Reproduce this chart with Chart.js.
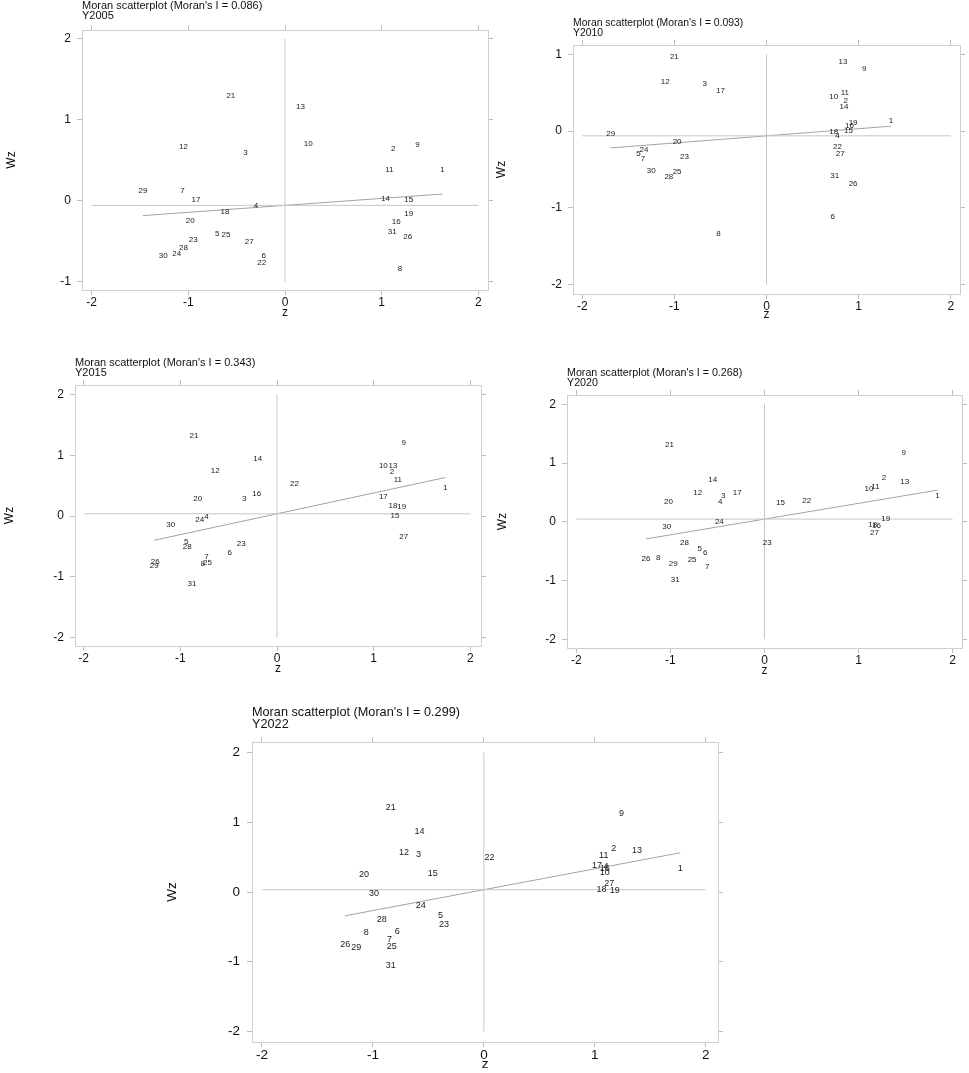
<!DOCTYPE html>
<html>
<head>
<meta charset="utf-8">
<title>Moran scatterplots</title>
<script src="https://cdn.jsdelivr.net/npm/chart.js@4.4.1/dist/chart.umd.min.js"></script>
<style>
  body { margin: 0; background: #fff; }
  #page { position: relative; width: 969px; height: 1073px; background: #fff; overflow: hidden; }
  #page canvas { position: absolute; }
</style>
</head>
<body>
<div id="page">
  <canvas id="c2005"></canvas>
  <canvas id="c2010"></canvas>
  <canvas id="c2015"></canvas>
  <canvas id="c2020"></canvas>
  <canvas id="c2022"></canvas>
</div>
<script>
// region ids, the point labels (1..31)
var regions = [1,2,3,4,5,6,7,8,9,10,11,12,13,14,15,16,17,18,19,20,21,22,23,24,25,26,27,28,29,30,31];

// z and Wz for each region, in region order
var z2005  = [1.63,1.12,-0.41,-0.30,-0.70,-0.22,-1.06,1.19,1.37,0.24,1.08,-1.05,0.16,1.04,1.28,1.15,-0.92,-0.62,1.28,-0.98,-0.56,-0.24,-0.95,-1.12,-0.61,1.27,-0.37,-1.05,-1.47,-1.26,1.11];
var wz2005 = [0.39,0.64,0.60,-0.06,-0.40,-0.68,0.12,-0.84,0.69,0.70,0.38,0.67,1.16,0.02,0.01,-0.26,0.01,-0.13,-0.16,-0.24,1.30,-0.77,-0.48,-0.65,-0.42,-0.44,-0.50,-0.58,0.12,-0.68,-0.38];

var z2010  = [1.35,0.86,-0.67,0.77,-1.39,0.72,-1.34,-0.52,1.06,0.73,0.85,-1.10,0.83,0.84,0.89,0.90,-0.50,0.73,0.94,-0.97,-1.00,0.77,-0.89,-1.33,-0.97,0.94,0.80,-1.06,-1.69,-1.25,0.74];
var wz2010 = [0.13,0.39,0.61,-0.065,-0.29,-1.11,-0.36,-1.34,0.81,0.45,0.50,0.64,0.90,0.32,0.00,0.065,0.52,-0.01,0.11,-0.14,0.96,-0.20,-0.34,-0.24,-0.53,-0.68,-0.30,-0.59,-0.04,-0.52,-0.58];

var z2015  = [1.74,1.19,-0.34,-0.73,-0.94,-0.49,-0.73,-0.77,1.31,1.10,1.25,-0.64,1.20,-0.20,1.22,-0.21,1.10,1.20,1.29,-0.82,-0.86,0.18,-0.37,-0.80,-0.72,-1.26,1.31,-0.93,-1.27,-1.10,-0.88];
var wz2015 = [0.47,0.73,0.29,-0.01,-0.42,-0.61,-0.67,-0.79,1.21,0.83,0.59,0.74,0.83,0.94,0.01,0.36,0.32,0.17,0.16,0.28,1.33,0.53,-0.46,-0.06,-0.77,-0.76,-0.34,-0.50,-0.82,-0.14,-1.11];

var z2020  = [1.84,1.27,-0.44,-0.47,-0.69,-0.63,-0.61,-1.13,1.48,1.11,1.18,-0.71,1.49,-0.55,0.17,1.19,-0.29,1.15,1.29,-1.02,-1.01,0.45,0.03,-0.48,-0.77,-1.26,1.17,-0.85,-0.97,-1.04,-0.95];
var wz2020 = [0.45,0.75,0.44,0.34,-0.46,-0.53,-0.77,-0.61,1.18,0.57,0.60,0.50,0.68,0.71,0.32,-0.06,0.49,-0.05,0.05,0.34,1.32,0.35,-0.35,0.00,-0.65,-0.63,-0.18,-0.36,-0.72,-0.09,-0.99];

var z2022  = [1.77,1.17,-0.59,1.10,-0.39,-0.78,-0.85,-1.06,1.24,1.09,1.08,-0.72,1.38,-0.58,-0.46,1.09,1.02,1.06,1.18,-1.08,-0.84,0.05,-0.36,-0.57,-0.83,-1.25,1.13,-0.92,-1.15,-0.99,-0.84];
var wz2022 = [0.33,0.63,0.54,0.36,-0.33,-0.56,-0.68,-0.58,1.12,0.28,0.52,0.57,0.59,0.87,0.26,0.33,0.38,0.04,0.02,0.25,1.21,0.50,-0.47,-0.20,-0.78,-0.75,0.12,-0.40,-0.80,-0.02,-1.06];

var years  = ['Y2005', 'Y2010', 'Y2015', 'Y2020', 'Y2022'];
var moranI = [0.086, 0.093, 0.343, 0.268, 0.299];
var meanWz = [-0.055, -0.062, 0.038, 0.046, 0.033];

var xTicks = [-2, -1, 0, 1, 2];
var yTicks2005 = [-1, 0, 1, 2];
var yTicks2010 = [-2, -1, 0, 1];
var yTicksRest = [-2, -1, 0, 1, 2];

var FONT = '"Liberation Sans", Arial, Helvetica, sans-serif';

// where each panel sits on the page: box = canvas [left, top, w, h], area = plot frame [l, t, r, b]
var panels = [
  { id: 'c2005', k: 0, z: z2005, wz: wz2005, yTicks: yTicks2005, box: [0, 0, 494, 322],   area: [82, 30, 488, 290],   xr: [-2.10, 2.10], yr: [-1.10, 2.11], titleSize: 11,   titleY: 6,   tickSize: 12,   labSize: 8, wzX: 12,  zY: 313 },
  { id: 'c2010', k: 1, z: z2010, wz: wz2010, yTicks: yTicks2010, box: [492, 0, 473, 325], area: [573, 45, 960, 294],  xr: [-2.10, 2.10], yr: [-2.12, 1.12], titleSize: 10.4, titleY: 23,  tickSize: 12,   labSize: 8, wzX: 502, zY: 315 },
  { id: 'c2015', k: 2, z: z2015, wz: wz2015, yTicks: yTicksRest, box: [0, 340, 487, 340], area: [75, 385, 481, 646],  xr: [-2.09, 2.11], yr: [-2.14, 2.16], titleSize: 11,   titleY: 363, tickSize: 12,   labSize: 8, wzX: 10,  zY: 669 },
  { id: 'c2020', k: 3, z: z2020, wz: wz2020, yTicks: yTicksRest, box: [490, 340, 478, 345], area: [567, 395, 962, 648], xr: [-2.10, 2.10], yr: [-2.15, 2.16], titleSize: 10.7, titleY: 373, tickSize: 12,   labSize: 8, wzX: 503, zY: 671 },
  { id: 'c2022', k: 4, z: z2022, wz: wz2022, yTicks: yTicksRest, box: [160, 695, 565, 378], area: [252, 742, 718, 1042], xr: [-2.09, 2.11], yr: [-2.15, 2.15], titleSize: 12.7, titleY: 712, tickSize: 13.5, labSize: 9, wzX: 172, zY: 1064 }
];

// writes the region number at each point
var pointLabels = {
  id: 'pointLabels',
  afterDatasetsDraw: function(chart, args, opts) {
    var meta = chart.getDatasetMeta(0);
    var ctx = chart.ctx;
    ctx.save();
    ctx.font = opts.size + 'px ' + FONT;
    ctx.fillStyle = '#1a1a1a';
    ctx.textAlign = 'center';
    ctx.textBaseline = 'middle';
    meta.data.forEach(function(pt, i) {
      ctx.fillText(String(regions[i]), pt.x, pt.y);
    });
    ctx.restore();
  }
};

function setTicks(list) {
  return function(scale) {
    scale.ticks = list.map(function(v) { return { value: v }; });
  };
}

panels.forEach(function(p) {
  var cv = document.getElementById(p.id);
  cv.width = p.box[2];
  cv.height = p.box[3];
  cv.style.left = p.box[0] + 'px';
  cv.style.top = p.box[1] + 'px';
  cv.style.width = p.box[2] + 'px';
  cv.style.height = p.box[3] + 'px';

  var I = moranI[p.k], m = meanWz[p.k];
  var zmin = Math.min.apply(null, p.z), zmax = Math.max.apply(null, p.z);
  var yLo = p.yTicks[0], yHi = p.yTicks[p.yTicks.length - 1];

  var titleLh = p.titleSize * 0.95;
  var titlePadTop = p.titleY - p.box[1] - titleLh / 2;
  var topAxisH = p.area[1] - p.box[1] - (titlePadTop + 2 * titleLh);
  var axLh = p.tickSize * 1.2;
  var boxBottom = p.box[1] + p.box[3];
  var boxRight = p.box[0] + p.box[2];

  var gridOpts = { drawOnChartArea: false, drawTicks: true, tickLength: 5, color: '#bdbdbd' };
  var borderOpts = { display: true, color: '#cfcfcf', width: 1 };
  var tickFont = { family: FONT, size: p.tickSize };

  new Chart(cv, {
    type: 'scatter',
    data: {
      datasets: [{
        data: p.z.map(function(v, i) { return { x: v, y: p.wz[i] }; }),
        pointRadius: 0,
        showLine: false
      }, {
        data: [{ x: 0, y: yLo }, { x: 0, y: yHi }],
        showLine: true, borderColor: '#c6c6c6', borderWidth: 1, pointRadius: 0
      }, {
        data: [{ x: xTicks[0], y: m }, { x: xTicks[xTicks.length - 1], y: m }],
        showLine: true, borderColor: '#c6c6c6', borderWidth: 1, pointRadius: 0
      }, {
        data: [{ x: zmin, y: m + I * zmin }, { x: zmax, y: m + I * zmax }],
        showLine: true, borderColor: '#a2a2a2', borderWidth: 1, pointRadius: 0
      }]
    },
    options: {
      responsive: false,
      animation: false,
      devicePixelRatio: 1,
      events: [],
      layout: { padding: 0 },
      plugins: {
        legend: { display: false },
        tooltip: { enabled: false },
        title: {
          display: true,
          fullSize: false,
          align: 'start',
          text: ["Moran scatterplot (Moran's I = " + I.toFixed(3) + ")", years[p.k]],
          color: '#111',
          font: { family: FONT, size: p.titleSize, weight: 'normal', lineHeight: 0.95 },
          padding: { top: titlePadTop, bottom: 0 }
        },
        pointLabels: { size: p.labSize }
      },
      scales: {
        x: {
          type: 'linear', position: 'bottom', min: p.xr[0], max: p.xr[1],
          afterBuildTicks: setTicks(xTicks),
          afterFit: function(s) { s.height = boxBottom - p.area[3]; },
          grid: gridOpts, border: borderOpts,
          ticks: { font: tickFont, color: '#111', padding: 0, maxRotation: 0, autoSkip: false, callback: function(v) { return String(v); } },
          title: { display: true, text: 'z', color: '#111', font: { family: FONT, size: p.tickSize },
                   padding: { top: 0, bottom: Math.max(0, boxBottom - p.zY - axLh / 2) } }
        },
        x2: {
          type: 'linear', position: 'top', min: p.xr[0], max: p.xr[1],
          afterBuildTicks: setTicks(xTicks),
          afterFit: function(s) { s.height = topAxisH; },
          grid: gridOpts, border: borderOpts,
          ticks: { display: false }
        },
        y: {
          type: 'linear', position: 'left', min: p.yr[0], max: p.yr[1],
          afterBuildTicks: setTicks(p.yTicks),
          afterFit: function(s) { s.width = p.area[0] - p.box[0]; },
          grid: gridOpts, border: borderOpts,
          ticks: { font: tickFont, color: '#111', padding: p.k === 4 ? 7 : 6, autoSkip: false, callback: function(v) { return String(v); } },
          title: { display: true, text: 'Wz', color: '#111', font: { family: FONT, size: p.tickSize },
                   padding: { top: Math.max(0, p.wzX - p.box[0] - axLh / 2), bottom: 0 } }
        },
        y2: {
          type: 'linear', position: 'right', min: p.yr[0], max: p.yr[1],
          afterBuildTicks: setTicks(p.yTicks),
          afterFit: function(s) { s.width = boxRight - p.area[2]; },
          grid: gridOpts, border: borderOpts,
          ticks: { display: false }
        }
      }
    },
    plugins: [pointLabels]
  });
});
</script>
</body>
</html>
